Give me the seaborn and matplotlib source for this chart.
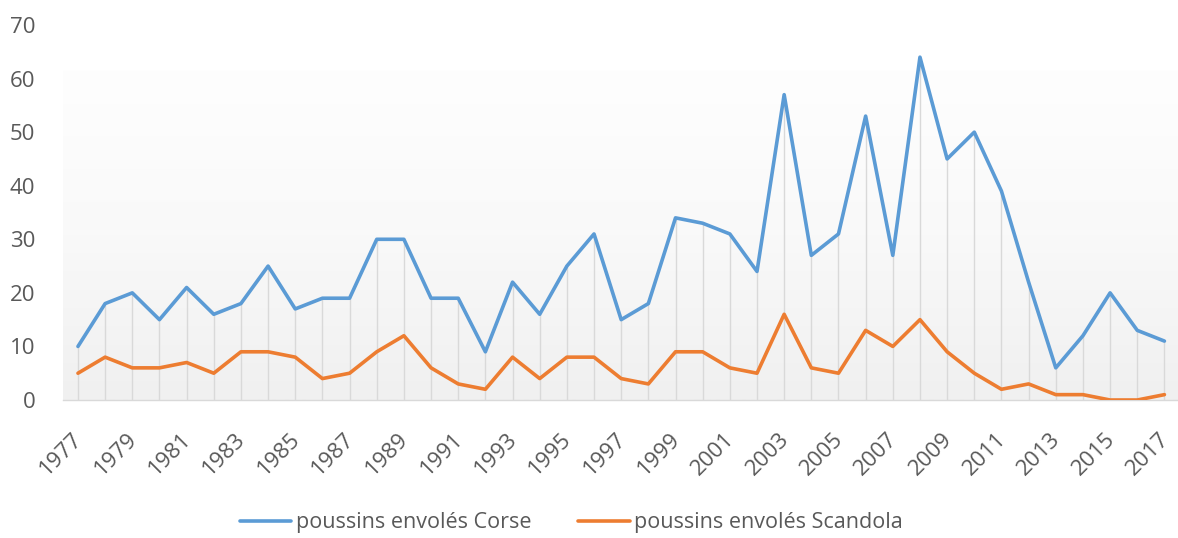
import numpy as np
import pandas as pd
import matplotlib
matplotlib.use("Agg")
import matplotlib.pyplot as plt
import seaborn as sns
from matplotlib.colors import LinearSegmentedColormap
from matplotlib.transforms import ScaledTranslation
from matplotlib.lines import Line2D

years = list(range(1977, 2018))
corse = [10, 18, 20, 15, 21, 16, 18, 25, 17, 19, 19, 30, 30, 19, 19, 9, 22, 16, 25, 31,
         15, 18, 34, 33, 31, 24, 57, 27, 31, 53, 27, 64, 45, 50, 39, 22, 6, 12, 20, 13, 11]
scandola = [5, 8, 6, 6, 7, 5, 9, 9, 8, 4, 5, 9, 12, 6, 3, 2, 8, 4, 8, 8,
            4, 3, 9, 9, 6, 5, 16, 6, 5, 13, 10, 15, 9, 5, 2, 3, 1, 1, 0, 0, 1]
series_names = ["poussins envolés Corse", "poussins envolés Scandola"]
colors = ["#5b9bd5", "#ed7d31"]
yticks = [0, 10, 20, 30, 40, 50, 60, 70]

df = pd.concat([
    pd.DataFrame({"année": years, "valeur": corse, "série": series_names[0]}),
    pd.DataFrame({"année": years, "valeur": scandola, "série": series_names[1]}),
])

sns.set_theme(style="white")
plt.rcParams["font.family"] = ["Open Sans", "DejaVu Sans"]

fig = plt.figure(figsize=(11.78, 5.38), dpi=100)
ax = fig.add_axes([0.0535, 0.2565, 0.9465, 0.697])

# gradient background
cmap = LinearSegmentedColormap.from_list("g", ["#fefefe", "#f9f9f9", "#f0f0f0"])
grad = np.linspace(0, 1, 256).reshape(-1, 1)
ax.imshow(grad, extent=[0, 1, 0, 0.88], transform=ax.transAxes, cmap=cmap,
          aspect="auto", zorder=0, origin="upper")

# drop lines
ax.vlines(years, 0, np.maximum(corse, scandola), color="#d9d9d9", lw=1.0, zorder=1)

sns.lineplot(data=df, x="année", y="valeur", hue="série", palette=colors,
             linewidth=2.6, ax=ax, legend=False, zorder=3)

ax.set_xlim(1976.45, 2017.5)
ax.set_ylim(0, 70)
ax.set_yticks(yticks)
ax.set_yticklabels([str(t) for t in yticks])
ax.set_xticks(years[::2])
ax.set_xticklabels([str(y) for y in years[::2]], rotation=45, ha="right",
                   rotation_mode="anchor")
ax.tick_params(axis="both", length=0, labelsize=16, colors="#595959")
ax.tick_params(axis="y", pad=20)
ax.tick_params(axis="x", pad=8)
off = ScaledTranslation(-6 / 100, -18 / 100, fig.dpi_scale_trans)
for lab in ax.get_xticklabels():
    lab.set_transform(lab.get_transform() + off)
ax.set_xlabel("")
ax.set_ylabel("")
for s in ["top", "right", "left"]:
    ax.spines[s].set_visible(False)
ax.spines["bottom"].set_color("#d9d9d9")
ax.spines["bottom"].set_linewidth(1.0)
ax.set_facecolor("white")

handles = [Line2D([0], [0], color=c, lw=2.6) for c in colors]
leg = fig.legend(handles, series_names, loc="center", bbox_to_anchor=(0.485, 0.028),
                 ncol=2, frameon=False, fontsize=15.5, handlelength=2.4,
                 handletextpad=0.2, columnspacing=2.2)
for t in leg.get_texts():
    t.set_color("#595959")

fig.savefig("out.png", dpi=100, facecolor="white")
